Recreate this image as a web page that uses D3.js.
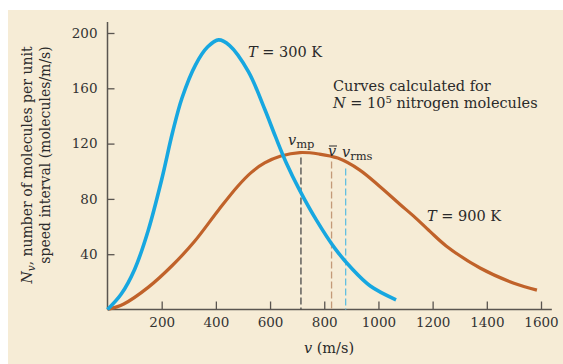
<!DOCTYPE html>
<html>
<head>
<meta charset="utf-8">
<script src="https://cdn.jsdelivr.net/npm/d3@7"></script>
<style>
  html, body { margin: 0; padding: 0; background: #fff; }
  svg { display: block; font-family: "DejaVu Serif", "Liberation Serif", serif; }
</style>
</head>
<body>
<div id="chart"></div>
<script>
// values: [speed m/s, molecules per unit speed interval]
const curve300 = [[0,0],[50,11],[100,29],[150,57],[200,94],[240,128],[275,153],[325,177],[370,190],[410,195],[450,191],[520,172],[580,145],[620,125],[660,106],[710,86],[770,65],[840,44],[900,30],[970,17],[1065,7]];
const curve900 = [[0,0],[60,4],[150,16],[240,32],[320,49],[410,72],[480,89],[530,99],[580,106],[640,111],[710,113.5],[780,112.5],[850,109.5],[930,101],[1005,89],[1080,76],[1130,67.5],[1190,56.5],[1250,46],[1375,30],[1500,19],[1585,14]];
const speedMarks = [714, 827, 879];      // v_mp, v-bar, v_rms
const speedMarkTops = [110, 107, 102];
const xTicks = [200, 400, 600, 800, 1000, 1200, 1400, 1600];
const yTicks = [40, 80, 120, 160, 200];

const W = 563, H = 364;
const svg = d3.select("#chart").append("svg")
  .attr("width", W).attr("height", H);

// beige page
svg.append("rect")
  .attr("x", 8).attr("y", 10)
  .attr("width", W - 8).attr("height", H - 10)
  .attr("fill", "#f6ecd6");

const x = d3.scaleLinear().domain([0, 1600]).range([107.5, 541]);
const y = d3.scaleLinear().domain([0, 200]).range([309.5, 33]);

const axisColor = "#5a5550";

// x axis
const gx = svg.append("g").attr("transform", "translate(0," + y(0) + ")")
  .call(d3.axisBottom(x).tickValues(xTicks).tickFormat(d3.format("d"))
    .tickSizeInner(-8).tickSizeOuter(0).tickPadding(8));
gx.attr("font-family", null).attr("font-size", 13.5);
gx.select(".domain").remove();
gx.selectAll("line").attr("stroke", axisColor).attr("stroke-width", 1.3);
gx.selectAll("text").attr("fill", "#333");

// y axis
const gy = svg.append("g").attr("transform", "translate(" + x(0) + ",0)")
  .call(d3.axisLeft(y).tickValues(yTicks).tickSizeInner(-7).tickSizeOuter(0).tickPadding(10));
gy.attr("font-family", null).attr("font-size", 13.5);
gy.select(".domain").remove();
gy.selectAll("line").attr("stroke", axisColor).attr("stroke-width", 1.3);
gy.selectAll("text").attr("fill", "#333");

// axis lines
svg.append("line")
  .attr("x1", x(0)).attr("x2", x(1640)).attr("y1", y(0)).attr("y2", y(0))
  .attr("stroke", axisColor).attr("stroke-width", 1.5);
svg.append("line")
  .attr("x1", x(0)).attr("x2", x(0)).attr("y1", y(0)).attr("y2", y(208))
  .attr("stroke", axisColor).attr("stroke-width", 1.5);

// dashed speed markers
const markColors = ["#4a4a4a", "#c39a78", "#62bfe0"];
svg.selectAll(".mark")
  .data(speedMarks)
  .enter()
  .append("line")
  .attr("x1", d => x(d)).attr("x2", d => x(d))
  .attr("y1", (d, i) => y(speedMarkTops[i]))
  .attr("y2", y(0))
  .attr("stroke", (d, i) => markColors[i])
  .attr("stroke-width", 1.3)
  .attr("stroke-dasharray", "7,3");

// curves
const line = d3.line()
  .x(d => x(d[0]))
  .y(d => y(d[1]))
  .curve(d3.curveCatmullRom.alpha(0.5));

svg.append("path").datum(curve900)
  .attr("d", line)
  .attr("fill", "none")
  .attr("stroke", "#c0622a")
  .attr("stroke-width", 3.2);

svg.append("path").datum(curve300)
  .attr("d", line)
  .attr("fill", "none")
  .attr("stroke", "#17a7e0")
  .attr("stroke-width", 3.6);

// text
const txt = (px, py, size) => svg.append("text")
  .attr("x", px).attr("y", py)
  .attr("font-size", size)
  .attr("fill", "#2a2a2a");

let t = txt(248, 57, 14.5);
t.append("tspan").attr("font-style", "italic").text("T");
t.append("tspan").text(" = 300 K");

t = txt(427, 221, 14.5);
t.append("tspan").attr("font-style", "italic").text("T");
t.append("tspan").text(" = 900 K");

txt(333, 91, 14.5).text("Curves calculated for");
t = txt(333, 108, 14.5);
t.append("tspan").attr("font-style", "italic").text("N");
t.append("tspan").text(" = 10");
t.append("tspan").attr("font-size", 10).attr("dy", -5).text("5");
t.append("tspan").attr("dy", 5).text(" nitrogen molecules");

// speed labels
t = txt(288, 145, 14.5);
t.append("tspan").attr("font-style", "italic").text("v");
t.append("tspan").attr("font-size", 11.5).attr("dy", 3).text("mp");

t = txt(328, 156, 14.5);
t.append("tspan").attr("font-style", "italic").text("v");
svg.append("line").attr("x1", 329).attr("x2", 337).attr("y1", 146).attr("y2", 146)
  .attr("stroke", "#2a2a2a").attr("stroke-width", 1);

t = txt(342, 157, 14.5);
t.append("tspan").attr("font-style", "italic").text("v");
t.append("tspan").attr("font-size", 11.5).attr("dy", 3).text("rms");

// x axis title
t = txt(329, 353, 14.5).attr("text-anchor", "middle");
t.append("tspan").attr("font-style", "italic").text("v");
t.append("tspan").text(" (m/s)");

// y axis title
t = svg.append("text")
  .attr("transform", "translate(32,165) rotate(-90)")
  .attr("text-anchor", "middle")
  .attr("font-size", 14).attr("fill", "#2a2a2a");
t.append("tspan").attr("font-style", "italic").text("N");
t.append("tspan").attr("font-style", "italic").attr("font-size", 10.5).attr("dy", 3).text("v");
t.append("tspan").attr("dy", -3).text(", number of molecules per unit");

svg.append("text")
  .attr("transform", "translate(50,155) rotate(-90)")
  .attr("text-anchor", "middle")
  .attr("font-size", 14).attr("fill", "#2a2a2a")
  .text("speed interval (molecules/m/s)");
</script>
</body>
</html>
